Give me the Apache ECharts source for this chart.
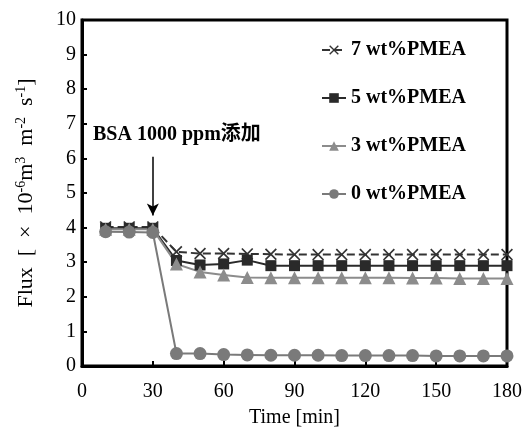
<!DOCTYPE html>
<html>
<head>
<meta charset="utf-8">
<script src="https://cdn.jsdelivr.net/npm/echarts@6/dist/echarts.min.js"></script>
<style>
  html, body { margin: 0; padding: 0; background: #fff; }
  #chart { width: 524px; height: 431px; }
</style>
</head>
<body>
<div id="chart"></div>
<script>
const times = [10, 20, 30, 40, 50, 60, 70, 80, 90, 100, 110, 120, 130, 140, 150, 160, 170, 180]
const pmea7 = [4.02, 4.02, 4.02, 3.3, 3.25, 3.25, 3.24, 3.23, 3.22, 3.22, 3.22, 3.22, 3.22, 3.22, 3.22, 3.22, 3.22, 3.22]
const pmea5 = [3.98, 3.98, 3.98, 3.05, 2.92, 2.95, 3.06, 2.9, 2.9, 2.9, 2.9, 2.9, 2.9, 2.9, 2.9, 2.9, 2.9, 2.9]
const pmea3 = [3.95, 3.95, 3.95, 2.95, 2.72, 2.63, 2.56, 2.55, 2.55, 2.55, 2.55, 2.55, 2.55, 2.54, 2.54, 2.53, 2.53, 2.53]
const pmea0 = [3.88, 3.87, 3.86, 0.36, 0.36, 0.33, 0.32, 0.31, 0.31, 0.31, 0.3, 0.3, 0.3, 0.3, 0.29, 0.29, 0.29, 0.29]
const seriesNames = ['7 wt%PMEA', '5 wt%PMEA', '3 wt%PMEA', '0 wt%PMEA']
const arrowFrom = [30, 6.05]
const arrowTo = [30, 4.35]

const serif = '"Times New Roman", "Liberation Serif", serif'
const crossPath = 'path://M0,1 L1,0 L5,4 L9,0 L10,1 L6,5 L10,9 L9,10 L5,6 L1,10 L0,9 L4,5 Z'

const pairs = (vals) => times.map((t, i) => [t, vals[i]])

const chart = echarts.init(document.getElementById('chart'))

const option = {
  animation: false,
  textStyle: { fontFamily: serif, color: '#000' },
  grid: {
    left: 82,
    right: 17,
    top: 20,
    bottom: 65,
    containLabel: false,
    outerBoundsMode: 'none',
    show: true,
    borderColor: '#000',
    borderWidth: 3
  },
  legend: {
    data: seriesNames,
    orient: 'vertical',
    left: 316,
    top: 35,
    itemWidth: 24,
    itemHeight: 12,
    itemGap: 28,
    selectedMode: false,
    textStyle: {
      fontFamily: serif,
      fontWeight: 'bold',
      fontSize: 20,
      color: '#000'
    }
  },
  xAxis: {
    type: 'value',
    min: 0,
    max: 180,
    interval: 30,
    name: 'Time [min]',
    nameLocation: 'middle',
    nameGap: 42,
    nameTextStyle: { fontFamily: serif, fontSize: 20, color: '#000' },
    axisLine: { lineStyle: { color: '#000', width: 3 } },
    axisTick: { inside: true, length: 5, lineStyle: { color: '#000', width: 2 } },
    axisLabel: { fontFamily: serif, fontSize: 20, color: '#000', margin: 16 },
    splitLine: { show: false }
  },
  yAxis: {
    type: 'value',
    min: 0,
    max: 10,
    interval: 1,
    name: 'Flux\u2002[\u2002×\u200210{sup|-6}m{sup|3}\u2002m{sup|-2}\u2002s{sup|-1}]',
    nameLocation: 'middle',
    nameGap: 44,
    nameTextStyle: {
      fontFamily: serif,
      fontSize: 22,
      color: '#000',
      rich: {
        sup: { fontFamily: serif, fontSize: 14, color: '#000', verticalAlign: 'top', padding: [0, 0, 10, 0] }
      }
    },
    axisLine: { lineStyle: { color: '#000', width: 3 } },
    axisTick: { inside: true, length: 5, lineStyle: { color: '#000', width: 2 } },
    axisLabel: { fontFamily: serif, fontSize: 20, color: '#000', margin: 6 },
    splitLine: { show: false }
  },
  graphic: [
    {
      type: 'text',
      left: 93,
      top: 125,
      style: {
        text: 'BSA 1000 ppm添加',
        fontFamily: '"Times New Roman", "Liberation Serif", "Noto Sans CJK JP", serif',
        fontWeight: 'bold',
        fontSize: 20,
        fill: '#000'
      }
    }
  ],
  series: [
    {
      name: seriesNames[0],
      type: 'line',
      data: pairs(pmea7),
      symbol: crossPath,
      symbolSize: 12,
      itemStyle: { color: '#333' },
      lineStyle: { color: '#333', width: 2, type: [8, 4] },
      markLine: {
        silent: true,
        symbol: ['none', 'arrow'],
        symbolSize: [9, 12],
        label: { show: false },
        lineStyle: { color: '#000', width: 1.5, type: 'solid' },
        data: [[{ coord: arrowFrom }, { coord: arrowTo }]]
      }
    },
    {
      name: seriesNames[1],
      type: 'line',
      data: pairs(pmea5),
      symbol: 'rect',
      symbolSize: 11,
      itemStyle: { color: '#2a2a2a' },
      lineStyle: { color: '#2a2a2a', width: 2 }
    },
    {
      name: seriesNames[2],
      type: 'line',
      data: pairs(pmea3),
      symbol: 'triangle',
      symbolSize: 13,
      itemStyle: { color: '#8c8c8c' },
      lineStyle: { color: '#8c8c8c', width: 2 }
    },
    {
      name: seriesNames[3],
      type: 'line',
      data: pairs(pmea0),
      symbol: 'circle',
      symbolSize: 13,
      itemStyle: { color: '#7a7a7a' },
      lineStyle: { color: '#7a7a7a', width: 2 }
    }
  ]
}

chart.setOption(option)
</script>
</body>
</html>
